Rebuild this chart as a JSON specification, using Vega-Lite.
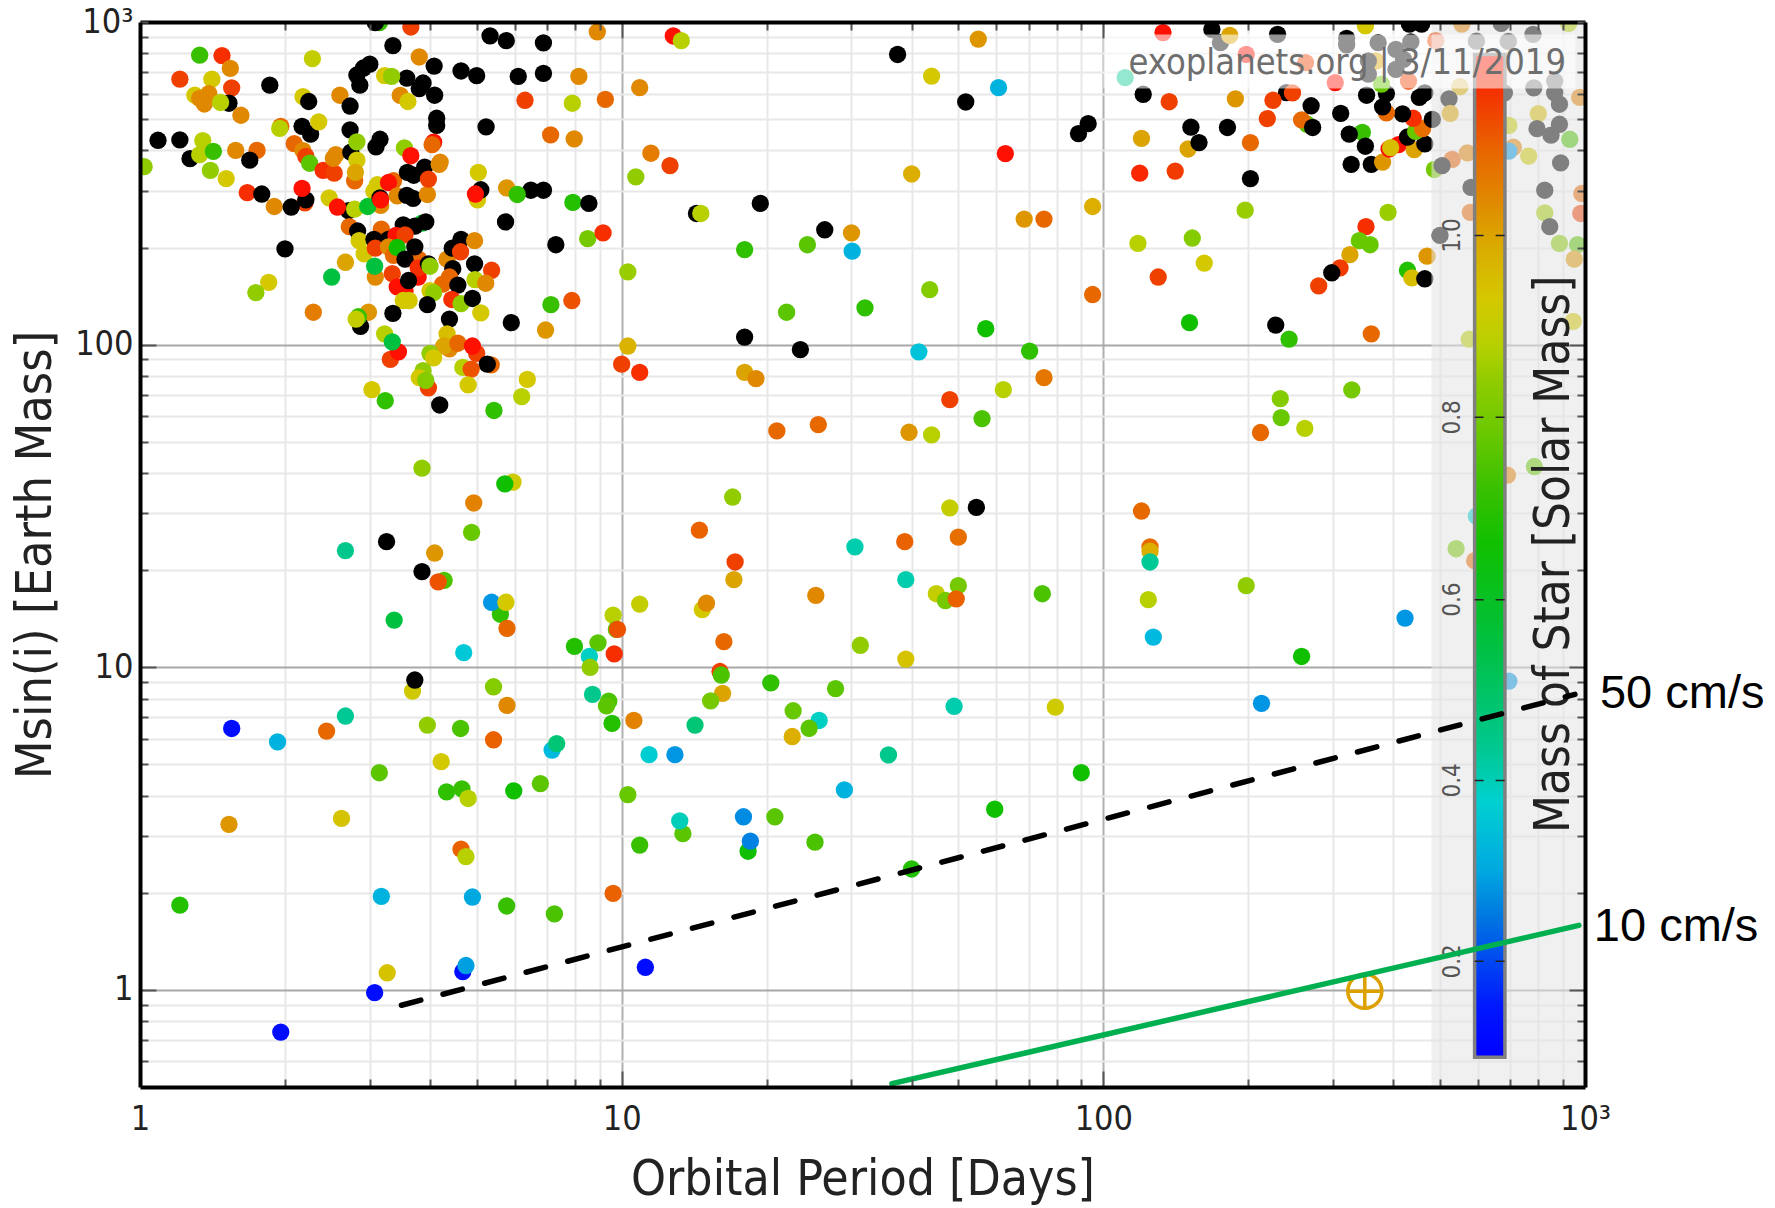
{"$schema":"https://vega.github.io/schema/vega-lite/v6.json","width":1445,"height":1065,"autosize":{"type":"none"},"padding":{"left":140,"top":22,"right":190,"bottom":121},"background":"white","config":{"view":{"stroke":null}},"resolve":{"axis":{"x":"independent","y":"independent"}},"layer":[
{"data":{"values":[
{"period":1.02,"msini":356,"star":0.84},{"period":1.09,"msini":430,"star":1.5},{"period":1.21,"msini":431,"star":1.5},{"period":1.27,"msini":377,"star":1.5},{"period":1.33,"msini":789,"star":0.72},{"period":1.48,"msini":787,"star":1.17},{"period":1.21,"msini":665,"star":1.14},{"period":1.54,"msini":718,"star":1.04},{"period":1.41,"msini":665,"star":0.93},{"period":1.55,"msini":625,"star":1.14},{"period":1.3,"msini":593,"star":0.93},{"period":1.33,"msini":580,"star":1.04},{"period":1.39,"msini":600,"star":1.04},{"period":1.36,"msini":557,"star":1.04},{"period":1.53,"msini":560,"star":1.5},{"period":1.47,"msini":563,"star":0.88},{"period":1.62,"msini":514,"star":1.04},{"period":1.33,"msini":388,"star":0.88},{"period":1.35,"msini":429,"star":0.88},{"period":1.42,"msini":397,"star":0.72},{"period":1.58,"msini":400,"star":1.04},{"period":1.75,"msini":400,"star":1.09},{"period":1.69,"msini":373,"star":1.5},{"period":1.4,"msini":347,"star":0.84},{"period":1.51,"msini":327,"star":0.93},{"period":1.86,"msini":637,"star":1.5},{"period":2.28,"msini":770,"star":0.9},{"period":2.18,"msini":587,"star":0.93},{"period":2.24,"msini":567,"star":1.5},{"period":2.6,"msini":593,"star":1.04},{"period":2.73,"msini":549,"star":1.5},{"period":1.96,"msini":475,"star":1.09},{"period":1.95,"msini":468,"star":0.88},{"period":2.17,"msini":475,"star":1.5},{"period":2.26,"msini":449,"star":1.5},{"period":2.35,"msini":490,"star":0.93},{"period":2.09,"msini":420,"star":1.09},{"period":2.18,"msini":399,"star":1.04},{"period":2.21,"msini":383,"star":1.14},{"period":2.25,"msini":365,"star":0.76},{"period":2.4,"msini":347,"star":1.17},{"period":2.53,"msini":340,"star":1.14},{"period":2.55,"msini":388,"star":1.04},{"period":2.52,"msini":378,"star":1.04},{"period":2.73,"msini":463,"star":1.5},{"period":2.74,"msini":395,"star":1.5},{"period":2.82,"msini":425,"star":0.84},{"period":2.82,"msini":373,"star":0.93},{"period":2.79,"msini":322,"star":1.09},{"period":2.8,"msini":342,"star":1.0},{"period":1.67,"msini":296,"star":1.17},{"period":1.79,"msini":293,"star":1.5},{"period":2.2,"msini":275,"star":1.14},{"period":2.21,"msini":281,"star":1.5},{"period":2.17,"msini":305,"star":1.2},{"period":1.9,"msini":268,"star":1.04},{"period":2.06,"msini":267,"star":1.5},{"period":2.47,"msini":285,"star":0.93},{"period":2.71,"msini":260,"star":1.5},{"period":2.57,"msini":267,"star":1.2},{"period":2.79,"msini":263,"star":0.88},{"period":3.36,"msini":322,"star":1.09},{"period":3.11,"msini":313,"star":0.93},{"period":3.16,"msini":270,"star":1.04},{"period":3.06,"msini":299,"star":0.93},{"period":3.28,"msini":318,"star":1.2},{"period":2.97,"msini":268,"star":0.6},{"period":3.15,"msini":285,"star":1.5},{"period":3.16,"msini":281,"star":1.2},{"period":3.42,"msini":289,"star":1.04},{"period":3.58,"msini":290,"star":1.5},{"period":3.69,"msini":284,"star":1.5},{"period":3.95,"msini":292,"star":1.04},{"period":3.59,"msini":342,"star":1.5},{"period":3.7,"msini":335,"star":1.5},{"period":3.9,"msini":355,"star":1.5},{"period":4.2,"msini":368,"star":1.04},{"period":4.18,"msini":362,"star":1.04},{"period":3.97,"msini":326,"star":1.14},{"period":3.54,"msini":407,"star":0.84},{"period":3.65,"msini":385,"star":1.2},{"period":4.07,"msini":424,"star":1.2},{"period":4.04,"msini":417,"star":1.09},{"period":3.15,"msini":433,"star":1.5},{"period":3.09,"msini":410,"star":1.5},{"period":5.23,"msini":473,"star":1.5},{"period":7.12,"msini":447,"star":1.09},{"period":7.97,"msini":434,"star":1.04},{"period":6.3,"msini":572,"star":1.14},{"period":7.9,"msini":560,"star":0.88},{"period":9.25,"msini":576,"star":1.09},{"period":8.15,"msini":678,"star":1.04},{"period":8.9,"msini":932,"star":1.04},{"period":6.1,"msini":678,"star":1.5},{"period":6.88,"msini":693,"star":1.5},{"period":6.88,"msini":862,"star":1.5},{"period":5.76,"msini":875,"star":1.5},{"period":5.33,"msini":906,"star":1.5},{"period":5.0,"msini":682,"star":1.5},{"period":4.64,"msini":705,"star":1.5},{"period":4.08,"msini":730,"star":1.5},{"period":4.09,"msini":593,"star":1.5},{"period":3.87,"msini":647,"star":1.5},{"period":3.8,"msini":622,"star":1.5},{"period":3.58,"msini":670,"star":1.5},{"period":3.22,"msini":682,"star":0.93},{"period":3.33,"msini":678,"star":0.84},{"period":3.8,"msini":779,"star":1.04},{"period":3.35,"msini":845,"star":1.5},{"period":3.65,"msini":965,"star":1.14},{"period":3.14,"msini":995,"star":0.72},{"period":3.08,"msini":995,"star":1.5},{"period":3.0,"msini":740,"star":1.5},{"period":2.91,"msini":720,"star":1.5},{"period":2.82,"msini":685,"star":1.5},{"period":2.86,"msini":637,"star":1.5},{"period":3.47,"msini":592,"star":1.04},{"period":3.6,"msini":567,"star":0.93},{"period":4.13,"msini":503,"star":1.5},{"period":4.13,"msini":478,"star":1.5},{"period":5.04,"msini":342,"star":0.93},{"period":5.02,"msini":281,"star":0.93},{"period":5.1,"msini":302,"star":1.5},{"period":4.97,"msini":293,"star":1.2},{"period":5.77,"msini":306,"star":1.02},{"period":6.48,"msini":301,"star":1.5},{"period":6.88,"msini":301,"star":1.5},{"period":6.07,"msini":292,"star":0.7},{"period":7.92,"msini":276,"star":0.68},{"period":8.55,"msini":274,"star":1.5},{"period":5.74,"msini":240,"star":1.5},{"period":7.3,"msini":204,"star":1.5},{"period":8.5,"msini":213,"star":0.8},{"period":9.15,"msini":222,"star":1.17},{"period":3.85,"msini":238,"star":0.6},{"period":3.92,"msini":240,"star":1.5},{"period":3.72,"msini":233,"star":1.5},{"period":3.52,"msini":235,"star":1.5},{"period":2.72,"msini":232,"star":1.09},{"period":2.83,"msini":225,"star":1.5},{"period":3.17,"msini":228,"star":1.09},{"period":2.85,"msini":210,"star":0.93},{"period":3.06,"msini":212,"star":1.5},{"period":3.28,"msini":212,"star":1.5},{"period":3.4,"msini":218,"star":1.2},{"period":3.55,"msini":219,"star":1.14},{"period":2.0,"msini":198,"star":1.5},{"period":2.67,"msini":180,"star":1.0},{"period":2.92,"msini":191,"star":0.93},{"period":3.08,"msini":199,"star":1.14},{"period":3.28,"msini":201,"star":1.04},{"period":3.36,"msini":189,"star":1.09},{"period":3.42,"msini":200,"star":0.66},{"period":3.79,"msini":184,"star":1.09},{"period":3.72,"msini":201,"star":1.5},{"period":3.55,"msini":184,"star":1.5},{"period":3.08,"msini":162,"star":1.04},{"period":3.07,"msini":175,"star":0.55},{"period":2.5,"msini":162,"star":0.55},{"period":1.85,"msini":156,"star":0.93},{"period":1.74,"msini":145,"star":0.84},{"period":3.34,"msini":166,"star":1.14},{"period":3.42,"msini":151,"star":1.2},{"period":3.55,"msini":147,"star":1.2},{"period":3.78,"msini":162,"star":1.2},{"period":3.78,"msini":173,"star":1.17},{"period":3.61,"msini":158,"star":1.5},{"period":3.97,"msini":178,"star":1.5},{"period":4.0,"msini":175,"star":0.84},{"period":4.34,"msini":184,"star":1.04},{"period":4.45,"msini":199,"star":1.5},{"period":4.64,"msini":212,"star":1.5},{"period":4.95,"msini":210,"star":1.04},{"period":4.63,"msini":194,"star":1.14},{"period":4.46,"msini":172,"star":1.5},{"period":4.95,"msini":178,"star":1.5},{"period":5.37,"msini":170,"star":1.14},{"period":4.96,"msini":159,"star":0.88},{"period":5.22,"msini":155,"star":1.04},{"period":4.39,"msini":162,"star":1.09},{"period":4.25,"msini":154,"star":1.09},{"period":4.57,"msini":153,"star":1.5},{"period":4.0,"msini":147,"star":0.93},{"period":4.07,"msini":145,"star":0.84},{"period":3.52,"msini":137,"star":0.93},{"period":3.62,"msini":137,"star":0.93},{"period":3.95,"msini":133,"star":1.5},{"period":4.44,"msini":138,"star":1.17},{"period":4.64,"msini":134,"star":0.84},{"period":4.9,"msini":139,"star":1.5},{"period":5.1,"msini":125.5,"star":0.93},{"period":4.39,"msini":120,"star":1.5},{"period":5.9,"msini":117,"star":1.5},{"period":6.95,"msini":111,"star":1.02},{"period":7.88,"msini":137,"star":1.12},{"period":7.13,"msini":133,"star":0.72},{"period":2.29,"msini":126,"star":1.06},{"period":2.98,"msini":126,"star":1.02},{"period":2.87,"msini":114,"star":1.5},{"period":2.84,"msini":122,"star":0.72},{"period":2.81,"msini":120,"star":0.9},{"period":3.35,"msini":125,"star":1.5},{"period":3.22,"msini":108,"star":0.88},{"period":3.31,"msini":90,"star":1.14},{"period":3.44,"msini":95,"star":1.2},{"period":3.34,"msini":102,"star":0.55},{"period":4.34,"msini":108,"star":0.95},{"period":4.39,"msini":97,"star":1.04},{"period":4.27,"msini":99,"star":1.0},{"period":4.57,"msini":101,"star":1.09},{"period":5.0,"msini":94,"star":1.14},{"period":4.9,"msini":99,"star":1.2},{"period":5.36,"msini":86.5,"star":1.09},{"period":5.26,"msini":87,"star":1.5},{"period":4.68,"msini":85,"star":0.88},{"period":4.87,"msini":84,"star":1.12},{"period":4.0,"msini":94,"star":0.84},{"period":4.07,"msini":91,"star":0.93},{"period":3.87,"msini":83,"star":0.84},{"period":3.97,"msini":73.5,"star":1.14},{"period":3.8,"msini":79,"star":0.93},{"period":3.92,"msini":77.5,"star":0.82},{"period":4.8,"msini":75,"star":0.93},{"period":6.37,"msini":78,"star":0.93},{"period":6.2,"msini":69,"star":0.88},{"period":3.03,"msini":72.5,"star":0.93},{"period":3.23,"msini":67,"star":0.7},{"period":4.19,"msini":65,"star":1.5},{"period":5.43,"msini":62.5,"star":0.7},
{"period":12.8,"msini":905,"star":1.2},{"period":13.3,"msini":875,"star":0.88},{"period":10.9,"msini":626,"star":1.04},{"period":11.5,"msini":392,"star":1.06},{"period":12.6,"msini":359,"star":1.14},{"period":10.7,"msini":331,"star":0.84},{"period":14.3,"msini":255,"star":1.5},{"period":14.6,"msini":255,"star":0.88},{"period":19.4,"msini":274,"star":1.5},{"period":18,"msini":197,"star":0.7},{"period":24.3,"msini":204,"star":0.76},{"period":26.4,"msini":227,"star":1.5},{"period":30,"msini":222,"star":1.02},{"period":30.1,"msini":195,"star":0.32},{"period":37.4,"msini":793,"star":1.5},{"period":44,"msini":680,"star":0.93},{"period":55,"msini":885,"star":1.02},{"period":60.6,"msini":626,"star":0.32},{"period":51.8,"msini":565,"star":1.5},{"period":88.8,"msini":451,"star":1.5},{"period":93,"msini":484,"star":1.5},{"period":62.6,"msini":391,"star":1.2},{"period":40,"msini":338,"star":0.98},{"period":68.5,"msini":245,"star":1.02},{"period":75.3,"msini":245,"star":1.09},{"period":95,"msini":268,"star":0.98},{"period":95,"msini":143,"star":1.09},{"period":57,"msini":112,"star":0.66},{"period":43.6,"msini":148,"star":0.82},{"period":32,"msini":130,"star":0.7},{"period":22,"msini":126,"star":0.76},{"period":10.3,"msini":168,"star":0.85},{"period":10.3,"msini":99,"star":0.97},{"period":18,"msini":105.5,"star":1.5},{"period":23.5,"msini":96.5,"star":1.5},{"period":41.4,"msini":95,"star":0.35},{"period":70.3,"msini":95.5,"star":0.7},{"period":75.3,"msini":79,"star":1.07},{"period":62,"msini":72.5,"star":0.88},{"period":48,"msini":67.5,"star":1.14},{"period":56,"msini":59,"star":0.74},{"period":10,"msini":87,"star":1.14},{"period":10.9,"msini":82,"star":1.17},{"period":18,"msini":82,"star":1.0},{"period":19,"msini":78.5,"star":1.04},{"period":21,"msini":54,"star":1.09},{"period":25.6,"msini":56.5,"star":1.09},{"period":39.5,"msini":53.5,"star":1.02},{"period":44,"msini":52.5,"star":0.88},
{"period":111,"msini":672,"star":0.435},{"period":121,"msini":597,"star":1.5},{"period":137,"msini":566,"star":1.14},{"period":120,"msini":436,"star":1.0},{"period":119,"msini":340,"star":1.18},{"period":141,"msini":345,"star":1.15},{"period":150,"msini":404,"star":1.0},{"period":152,"msini":472,"star":1.5},{"period":158,"msini":423,"star":1.5},{"period":181,"msini":471,"star":1.5},{"period":202,"msini":423,"star":1.09},{"period":188,"msini":578,"star":1.02},{"period":202,"msini":327,"star":1.5},{"period":240,"msini":604,"star":1.5},{"period":247,"msini":603,"star":1.14},{"period":225,"msini":572,"star":1.14},{"period":219,"msini":502,"star":1.14},{"period":265,"msini":482,"star":0.76},{"period":258,"msini":497,"star":1.09},{"period":272,"msini":471,"star":1.5},{"period":270,"msini":550,"star":1.5},{"period":311,"msini":521,"star":1.5},{"period":345,"msini":455,"star":0.72},{"period":324,"msini":449,"star":1.5},{"period":350,"msini":412,"star":1.5},{"period":327,"msini":362,"star":1.5},{"period":360,"msini":362,"star":1.5},{"period":380,"msini":368,"star":1.02},{"period":392,"msini":404,"star":1.2},{"period":410,"msini":417,"star":1.2},{"period":395,"msini":408,"star":0.95},{"period":442,"msini":402,"star":1.0},{"period":428,"msini":440,"star":1.5},{"period":465,"msini":419,"star":1.5},{"period":445,"msini":458,"star":0.78},{"period":460,"msini":467,"star":1.08},{"period":440,"msini":503,"star":1.17},{"period":418,"msini":519,"star":1.5},{"period":482,"msini":499,"star":1.5},{"period":387,"msini":523,"star":1.09},{"period":380,"msini":546,"star":1.5},{"period":352,"msini":593,"star":1.5},{"period":387,"msini":600,"star":1.5},{"period":453,"msini":584,"star":1.5},{"period":465,"msini":603,"star":1.5},{"period":378,"msini":642,"star":0.78},{"period":430,"msini":656,"star":1.14},{"period":303,"msini":649,"star":1.2},{"period":263,"msini":748,"star":1.14},{"period":198,"msini":794,"star":1.2},{"period":175,"msini":863,"star":1.5},{"period":168,"msini":948,"star":1.5},{"period":183,"msini":909,"star":1.0},{"period":133,"msini":927,"star":1.2},{"period":230,"msini":916,"star":1.5},{"period":320,"msini":890,"star":1.5},{"period":320,"msini":850,"star":1.5},{"period":350,"msini":973,"star":0.93},{"period":372,"msini":863,"star":1.5},{"period":432,"msini":985,"star":1.5},{"period":458,"msini":985,"star":1.5},{"period":435,"msini":867,"star":1.5},{"period":490,"msini":876,"star":1.14},{"period":555,"msini":985,"star":1.05},{"period":595,"msini":872,"star":1.5},{"period":670,"msini":990,"star":1.5},{"period":693,"msini":871,"star":1.5},{"period":780,"msini":916,"star":1.5},{"period":925,"msini":990,"star":0.88},{"period":405,"msini":823,"star":1.5},{"period":405,"msini":713,"star":1.5},{"period":420,"msini":766,"star":1.5},{"period":368,"msini":757,"star":1.0},{"period":355,"msini":757,"star":1.5},{"period":355,"msini":689,"star":1.5},{"period":550,"msini":630,"star":0.98},{"period":522,"msini":578,"star":1.5},{"period":525,"msini":521,"star":1.0},{"period":570,"msini":393,"star":1.05},{"period":530,"msini":375,"star":1.1},{"period":487,"msini":349,"star":0.8},{"period":505,"msini":359,"star":1.5},{"period":580,"msini":307,"star":1.5},{"period":578,"msini":257,"star":1.09},{"period":500,"msini":218,"star":1.5},{"period":470,"msini":188,"star":1.02},{"period":428,"msini":170,"star":0.68},{"period":437,"msini":161,"star":0.95},{"period":465,"msini":160,"star":1.5},{"period":390,"msini":257,"star":0.85},{"period":351,"msini":232,"star":1.17},{"period":340,"msini":210,"star":0.78},{"period":358,"msini":204,"star":0.78},{"period":325,"msini":190,"star":1.0},{"period":310,"msini":173,"star":1.15},{"period":298,"msini":167,"star":1.5},{"period":280,"msini":152,"star":1.14},{"period":197,"msini":261,"star":0.85},{"period":153,"msini":214,"star":0.82},{"period":118,"msini":206,"star":0.88},{"period":162,"msini":179,"star":0.93},{"period":130,"msini":162,"star":1.14},{"period":151,"msini":117,"star":0.66},{"period":228,"msini":115,"star":1.5},{"period":243,"msini":104,"star":0.7},{"period":360,"msini":108,"star":1.09},{"period":575,"msini":104,"star":0.88},{"period":328,"msini":72.4,"star":0.8},{"period":233,"msini":68,"star":0.82},{"period":234,"msini":59.4,"star":0.78},{"period":262,"msini":55,"star":0.88},{"period":212,"msini":53.4,"star":1.09},
{"period":710,"msini":409,"star":1.05},{"period":695,"msini":398,"star":0.28},{"period":695,"msini":478,"star":0.9},{"period":764,"msini":384,"star":0.92},{"period":800,"msini":520,"star":0.95},{"period":795,"msini":467,"star":1.5},{"period":885,"msini":482,"star":1.5},{"period":850,"msini":446,"star":1.5},{"period":930,"msini":433,"star":0.74},{"period":890,"msini":366,"star":1.5},{"period":825,"msini":301,"star":1.5},{"period":825,"msini":256,"star":0.86},{"period":845,"msini":232,"star":1.5},{"period":885,"msini":206,"star":0.82},{"period":965,"msini":204,"star":0.76},{"period":950,"msini":184,"star":1.02},{"period":985,"msini":294,"star":1.09},{"period":980,"msini":255,"star":1.14},{"period":945,"msini":118,"star":0.93},{"period":783,"msini":625,"star":1.5},{"period":885,"msini":556,"star":1.5},{"period":865,"msini":603,"star":1.5},{"period":975,"msini":584,"star":1.05},{"period":865,"msini":656,"star":1.5},{"period":680,"msini":603,"star":1.5},
{"period":120,"msini":30.5,"star":1.09},{"period":125,"msini":23.6,"star":1.09},{"period":125,"msini":22.9,"star":0.98},{"period":125,"msini":21.2,"star":0.43},{"period":124,"msini":16.2,"star":0.88},{"period":127,"msini":12.4,"star":0.33},{"period":198,"msini":17.9,"star":0.84},{"period":258,"msini":10.8,"star":0.66},{"period":423,"msini":14.2,"star":0.28},{"period":540,"msini":23.3,"star":0.8},{"period":595,"msini":29.4,"star":0.38},{"period":590,"msini":21.4,"star":1.09},{"period":690,"msini":39.4,"star":1.06},{"period":785,"msini":41.9,"star":0.78},{"period":695,"msini":9.06,"star":0.28},{"period":213,"msini":7.73,"star":0.28},
{"period":17,"msini":33.7,"star":0.84},{"period":14.5,"msini":26.6,"star":1.1},{"period":17.2,"msini":21.2,"star":1.14},{"period":17.1,"msini":18.7,"star":1.0},{"period":10.9,"msini":15.7,"star":0.9},{"period":14.7,"msini":15.1,"star":0.93},{"period":15,"msini":15.8,"star":1.04},{"period":25.3,"msini":16.7,"star":1.04},{"period":16.3,"msini":12,"star":1.09},{"period":16,"msini":9.7,"star":1.14},{"period":16.1,"msini":9.46,"star":0.74},{"period":16.2,"msini":8.3,"star":1.0},{"period":15.3,"msini":7.87,"star":0.8},{"period":20.4,"msini":8.95,"star":0.7},{"period":27.8,"msini":8.59,"star":0.76},{"period":22.7,"msini":7.33,"star":0.78},{"period":25.7,"msini":6.84,"star":0.39},{"period":24.5,"msini":6.47,"star":0.76},{"period":22.6,"msini":6.1,"star":0.98},{"period":10.6,"msini":6.84,"star":1.05},{"period":14.2,"msini":6.62,"star":0.48},{"period":11.4,"msini":5.36,"star":0.37},{"period":12.9,"msini":5.36,"star":0.28},{"period":35.8,"msini":5.35,"star":0.44},{"period":10.3,"msini":4.03,"star":0.78},{"period":29,"msini":4.17,"star":0.32},{"period":13.4,"msini":3.05,"star":0.76},{"period":13.2,"msini":3.34,"star":0.4},{"period":10.9,"msini":2.81,"star":0.72},{"period":17.9,"msini":3.44,"star":0.27},{"period":20.8,"msini":3.44,"star":0.76},{"period":18.3,"msini":2.69,"star":0.66},{"period":18.5,"msini":2.89,"star":0.26},{"period":25.2,"msini":2.87,"star":0.74},{"period":40,"msini":2.37,"star":0.68},{"period":90,"msini":4.71,"star":0.66},{"period":59.5,"msini":3.63,"star":0.66},{"period":79.5,"msini":7.52,"star":0.92},{"period":49,"msini":7.57,"star":0.41},{"period":30.5,"msini":23.6,"star":0.41},{"period":38.7,"msini":24.5,"star":1.1},{"period":38.9,"msini":18.7,"star":0.41},{"period":50,"msini":25.3,"star":1.08},{"period":48,"msini":31.2,"star":0.9},{"period":54.5,"msini":31.3,"star":1.5},{"period":45,"msini":16.9,"star":0.9},{"period":50,"msini":17.9,"star":0.8},{"period":47,"msini":16.1,"star":0.8},{"period":49.5,"msini":16.3,"star":1.1},{"period":74.7,"msini":16.9,"star":0.74},{"period":31.3,"msini":11.7,"star":0.84},{"period":38.9,"msini":10.6,"star":0.94},
{"period":3.85,"msini":41.4,"star":0.84},{"period":5.95,"msini":37.5,"star":0.92},{"period":5.72,"msini":37,"star":0.66},{"period":4.93,"msini":32.3,"star":1.05},{"period":4.88,"msini":26.2,"star":0.78},{"period":2.67,"msini":23,"star":0.44},{"period":3.25,"msini":24.5,"star":1.5},{"period":4.09,"msini":22.6,"star":1.02},{"period":3.85,"msini":19.8,"star":1.5},{"period":4.28,"msini":18.6,"star":0.74},{"period":4.16,"msini":18.4,"star":1.12},{"period":5.6,"msini":14.6,"star":0.7},{"period":5.37,"msini":15.9,"star":0.28},{"period":5.75,"msini":15.9,"star":0.93},{"period":5.78,"msini":13.2,"star":1.09},{"period":3.37,"msini":14,"star":0.55},{"period":4.7,"msini":11.1,"star":0.36},{"period":7.98,"msini":11.6,"star":0.68},{"period":8.93,"msini":11.9,"star":0.76},{"period":8.57,"msini":10.8,"star":0.39},{"period":8.6,"msini":10,"star":0.84},{"period":9.6,"msini":14.5,"star":0.88},{"period":9.75,"msini":13.1,"star":0.76},{"period":9.8,"msini":13.1,"star":1.12},{"period":9.65,"msini":11,"star":1.17},{"period":5.42,"msini":8.7,"star":0.82},{"period":5.78,"msini":7.62,"star":1.04},{"period":3.68,"msini":8.44,"star":0.92},{"period":3.72,"msini":9.13,"star":1.5},{"period":8.7,"msini":8.24,"star":0.44},{"period":9.4,"msini":7.85,"star":0.74},{"period":9.3,"msini":7.59,"star":0.76},{"period":9.55,"msini":6.7,"star":0.68},{"period":2.67,"msini":7.06,"star":0.43},{"period":1.55,"msini":6.46,"star":0.12},{"period":1.93,"msini":5.87,"star":0.32},{"period":2.44,"msini":6.34,"star":1.09},{"period":3.95,"msini":6.62,"star":0.84},{"period":4.63,"msini":6.46,"star":0.74},{"period":5.42,"msini":5.96,"star":1.1},{"period":4.22,"msini":5.1,"star":0.93},{"period":7.17,"msini":5.54,"star":0.33},{"period":7.33,"msini":5.8,"star":0.48},{"period":3.14,"msini":4.71,"star":0.76},{"period":4.33,"msini":4.11,"star":0.7},{"period":4.66,"msini":4.2,"star":0.72},{"period":4.8,"msini":3.92,"star":0.88},{"period":5.97,"msini":4.14,"star":0.66},{"period":6.78,"msini":4.36,"star":0.76},{"period":1.53,"msini":3.26,"star":1.02},{"period":2.62,"msini":3.4,"star":0.94},{"period":4.64,"msini":2.73,"star":1.1},{"period":4.75,"msini":2.59,"star":0.88},
{"period":1.21,"msini":1.83,"star":0.68},{"period":3.17,"msini":1.95,"star":0.32},{"period":4.9,"msini":1.94,"star":0.3},{"period":5.77,"msini":1.82,"star":0.72},{"period":7.25,"msini":1.72,"star":0.74},{"period":9.6,"msini":1.99,"star":1.1},{"period":3.26,"msini":1.13,"star":0.94},{"period":4.68,"msini":1.14,"star":0.12},{"period":4.75,"msini":1.19,"star":0.29},{"period":3.07,"msini":0.98,"star":0.12},{"period":1.96,"msini":0.74,"star":0.12},{"period":11.2,"msini":1.175,"star":0.12}
]},
"mark":{"type":"circle","size":300,"opacity":1,"clip":true},
"encoding":{
"x":{"field":"period","type":"quantitative","scale":{"type":"log","domain":[1,1000],"nice":false},"axis":{"orient":"bottom","values":[1,2,3,4,5,6,7,8,9,10,20,30,40,50,60,70,80,90,100,200,300,400,500,600,700,800,900,1000],"labelExpr":"datum.value==1?'1':datum.value==10?'10':datum.value==100?'100':datum.value==1000?'10³':''","labelFontSize":34,"labelFont":"DejaVu Sans Condensed, DejaVu Sans","labelColor":"#222222","labelPadding":15,"labelOverlap":false,"labelBound":false,"labelFlush":false,"ticks":false,"tickSize":0,"domain":false,"grid":true,"gridWidth":2,"gridColor":{"condition":{"test":"datum.value==10||datum.value==100","value":"#b0b0b0"},"value":"#e8e8e8"},"title":"Orbital Period [Days]","titleFont":"DejaVu Sans Condensed, DejaVu Sans","titleFontSize":49.5,"titleFontWeight":"normal","titleColor":"#222222","titlePadding":19}},
"y":{"field":"msini","type":"quantitative","scale":{"type":"log","domain":[0.5,1000],"nice":false},"axis":{"orient":"left","values":[0.6,0.7,0.8,0.9,1,2,3,4,5,6,7,8,9,10,20,30,40,50,60,70,80,90,100,200,300,400,500,600,700,800,900,1000],"labelExpr":"datum.value==1?'1':datum.value==10?'10':datum.value==100?'100':datum.value==1000?'10³':''","labelFontSize":34,"labelFont":"DejaVu Sans Condensed, DejaVu Sans","labelColor":"#222222","labelPadding":7,"labelOverlap":false,"labelBound":false,"labelFlush":false,"ticks":false,"tickSize":0,"domain":false,"grid":true,"gridWidth":2,"gridColor":{"condition":{"test":"datum.value==1||datum.value==10||datum.value==100","value":"#a8a8a8"},"value":"#e8e8e8"},"title":"Msin(i) [Earth Mass]","titleFont":"DejaVu Sans Condensed, DejaVu Sans","titleFontSize":50,"titleFontWeight":"normal","titleColor":"#222222","titlePadding":14}},
"color":{"field":"star","type":"quantitative","legend":null,"scale":{"type":"linear","domain":[0.1,0.15,0.2,0.25,0.3,0.376,0.435,0.55,0.66,0.72,0.78,0.84,0.88,0.93,1.0,1.04,1.09,1.14,1.2,1.21,2],"range":["#0000ff","#0018ff","#0048f0","#0078e0","#00a8e0","#00d0d0","#00c890","#00c040","#10c000","#38c000","#68c800","#90cc00","#b8d000","#d4c800","#dca400","#e08800","#e86800","#f04000","#ff1000","#000000","#000000"]}}
}},
{"data":{"values":[{"period":480,"period2":1000,"msini":0.5,"msini2":1000}]},
"mark":{"type":"rect","color":"#e5e5e5","opacity":0.56},
"encoding":{
"x":{"field":"period","type":"quantitative","scale":{"type":"log","domain":[1,1000],"nice":false},"axis":{"orient":"top","zindex":1,"values":[2,3,4,5,6,7,8,9,10,20,30,40,50,60,70,80,90,100,200,300,400,500,600,700,800,900,1000],"labels":false,"title":null,"grid":false,"tickColor":"#555555","tickWidth":2,"tickSize":{"condition":{"test":"datum.value==10||datum.value==100","value":-16},"value":-8},"domainColor":"#000000","domainWidth":4}},
"x2":{"field":"period2"},
"y":{"field":"msini","type":"quantitative","scale":{"type":"log","domain":[0.5,1000],"nice":false},"axis":{"orient":"right","zindex":1,"values":[0.6,0.7,0.8,0.9,1,2,3,4,5,6,7,8,9,10,20,30,40,50,60,70,80,90,100,200,300,400,500,600,700,800,900,1000],"labels":false,"title":null,"grid":false,"tickColor":"#555555","tickWidth":2,"tickSize":{"condition":{"test":"datum.value==1||datum.value==10||datum.value==100","value":-16},"value":-8},"domainColor":"#000000","domainWidth":4}},
"y2":{"field":"msini2"}}},
{"data":{"values":[{"period":590,"period2":682,"msini":0.618,"msini2":793}]},
"mark":{"type":"rect","stroke":"#808080","strokeWidth":3.5,"fill":{"gradient":"linear","x1":0,"y1":1,"x2":0,"y2":0,"stops":[{"offset":0,"color":"#0000ff"},{"offset":0.051,"color":"#0018ff"},{"offset":0.096,"color":"#0048f0"},{"offset":0.141,"color":"#0078e0"},{"offset":0.186,"color":"#00a8e0"},{"offset":0.255,"color":"#00d0d0"},{"offset":0.308,"color":"#00c890"},{"offset":0.412,"color":"#00c040"},{"offset":0.512,"color":"#10c000"},{"offset":0.566,"color":"#38c000"},{"offset":0.62,"color":"#68c800"},{"offset":0.675,"color":"#90cc00"},{"offset":0.711,"color":"#b8d000"},{"offset":0.756,"color":"#d4c800"},{"offset":0.819,"color":"#dca400"},{"offset":0.855,"color":"#e08800"},{"offset":0.901,"color":"#e86800"},{"offset":0.946,"color":"#f04000"},{"offset":1,"color":"#ff1000"}]}},
"encoding":{"x":{"field":"period","type":"quantitative","scale":{"type":"log","domain":[1,1000],"nice":false},"axis":{"orient":"bottom","zindex":1,"values":[2,3,4,5,6,7,8,9,10,20,30,40,50,60,70,80,90,100,200,300,400,500,600,700,800,900,1000],"labels":false,"title":null,"grid":false,"tickColor":"#555555","tickWidth":2,"tickSize":{"condition":{"test":"datum.value==10||datum.value==100","value":-16},"value":-8},"domainColor":"#000000","domainWidth":4}},"x2":{"field":"period2"},"y":{"field":"msini","type":"quantitative","scale":{"type":"log","domain":[0.5,1000],"nice":false},"axis":{"orient":"left","zindex":1,"values":[0.6,0.7,0.8,0.9,1,2,3,4,5,6,7,8,9,10,20,30,40,50,60,70,80,90,100,200,300,400,500,600,700,800,900,1000],"labels":false,"title":null,"grid":false,"tickColor":"#555555","tickWidth":2,"tickSize":{"condition":{"test":"datum.value==1||datum.value==10||datum.value==100","value":-16},"value":-8},"domainColor":"#000000","domainWidth":4}},"y2":{"field":"msini2"}}},
{"data":{"values":[{"period":590,"period2":682,"msini":1.226},{"period":590,"period2":682,"msini":4.46},{"period":590,"period2":682,"msini":16.2},{"period":590,"period2":682,"msini":59.5},{"period":590,"period2":682,"msini":218}]},
"mark":{"type":"rule","color":"#222222","strokeWidth":1.5,"strokeDash":[9,12,9]},
"encoding":{"x":{"field":"period","type":"quantitative","scale":{"type":"log","domain":[1,1000],"nice":false},"axis":null},"x2":{"field":"period2"},"y":{"field":"msini","type":"quantitative","scale":{"type":"log","domain":[0.5,1000],"nice":false},"axis":null}}},
{"data":{"values":[{"period":100,"period2":955,"msini":622,"msini2":915}]},
"mark":{"type":"rect","color":"#ffffff","opacity":0.58},
"encoding":{"x":{"field":"period","type":"quantitative","scale":{"type":"log","domain":[1,1000],"nice":false},"axis":null},"x2":{"field":"period2"},"y":{"field":"msini","type":"quantitative","scale":{"type":"log","domain":[0.5,1000],"nice":false},"axis":null},"y2":{"field":"msini2"}}},
{"data":{"values":[{"period":532,"msini":1.226,"label":"0.2"},{"period":532,"msini":4.46,"label":"0.4"},{"period":532,"msini":16.2,"label":"0.6"},{"period":532,"msini":59.5,"label":"0.8"},{"period":532,"msini":218,"label":"1.0"}]},
"mark":{"type":"text","angle":270,"align":"center","baseline":"middle","fontSize":24,"font":"DejaVu Sans Condensed, DejaVu Sans","color":"#555555"},
"encoding":{"x":{"field":"period","type":"quantitative","scale":{"type":"log","domain":[1,1000],"nice":false},"axis":null},"y":{"field":"msini","type":"quantitative","scale":{"type":"log","domain":[0.5,1000],"nice":false},"axis":null},"text":{"field":"label"}}},
{"data":{"values":[{"period":861,"msini":22.4,"label":"Mass of Star [Solar Mass]"}]},
"mark":{"type":"text","angle":270,"align":"center","baseline":"middle","fontSize":49,"font":"DejaVu Sans Condensed, DejaVu Sans","color":"#222222"},
"encoding":{"x":{"field":"period","type":"quantitative","scale":{"type":"log","domain":[1,1000],"nice":false},"axis":null},"y":{"field":"msini","type":"quantitative","scale":{"type":"log","domain":[0.5,1000],"nice":false},"axis":null},"text":{"field":"label"}}},
{"data":{"values":[{"period":321,"msini":745,"label":"exoplanets.org | 3/11/2019"}]},
"mark":{"type":"text","align":"center","baseline":"middle","fontSize":36,"font":"DejaVu Sans Condensed, DejaVu Sans","color":"#6e6e6e"},
"encoding":{"x":{"field":"period","type":"quantitative","scale":{"type":"log","domain":[1,1000],"nice":false},"axis":null},"y":{"field":"msini","type":"quantitative","scale":{"type":"log","domain":[0.5,1000],"nice":false},"axis":null},"text":{"field":"label"}}},
{"data":{"values":[{"period":349,"msini":0.99}]},
"mark":{"type":"point","filled":false,"opacity":1,"shape":"M1 0A1 1 0 1 1 -1 0A1 1 0 1 1 1 0M-1 0L1 0M0 -1L0 1","size":1156,"stroke":"#dca000","strokeWidth":3.5},
"encoding":{"x":{"field":"period","type":"quantitative","scale":{"type":"log","domain":[1,1000],"nice":false},"axis":null},"y":{"field":"msini","type":"quantitative","scale":{"type":"log","domain":[0.5,1000],"nice":false},"axis":null}}},
{"data":{"values":[{"period":3.49,"msini":0.896},{"period":953,"msini":8.24}]},
"mark":{"type":"line","color":"#000000","strokeWidth":5.5,"strokeDash":[20,23],"strokeCap":"round"},
"encoding":{"x":{"field":"period","type":"quantitative","scale":{"type":"log","domain":[1,1000],"nice":false},"axis":null},"y":{"field":"msini","type":"quantitative","scale":{"type":"log","domain":[0.5,1000],"nice":false},"axis":null}}},
{"data":{"values":[{"period":36.4,"msini":0.512},{"period":971,"msini":1.585}]},
"mark":{"type":"line","color":"#00b050","strokeWidth":5.5,"strokeCap":"round"},
"encoding":{"x":{"field":"period","type":"quantitative","scale":{"type":"log","domain":[1,1000],"nice":false},"axis":null},"y":{"field":"msini","type":"quantitative","scale":{"type":"log","domain":[0.5,1000],"nice":false},"axis":null}}},
{"data":{"values":[{"period":1074,"msini":8.24,"label":"50 cm/s"},{"period":1043,"msini":1.563,"label":"10 cm/s"}]},
"mark":{"type":"text","align":"left","baseline":"middle","fontSize":47,"font":"Liberation Sans","color":"#000000"},
"encoding":{"x":{"field":"period","type":"quantitative","scale":{"type":"log","domain":[1,1000],"nice":false},"axis":null},"y":{"field":"msini","type":"quantitative","scale":{"type":"log","domain":[0.5,1000],"nice":false},"axis":null},"text":{"field":"label"}}}
]}
